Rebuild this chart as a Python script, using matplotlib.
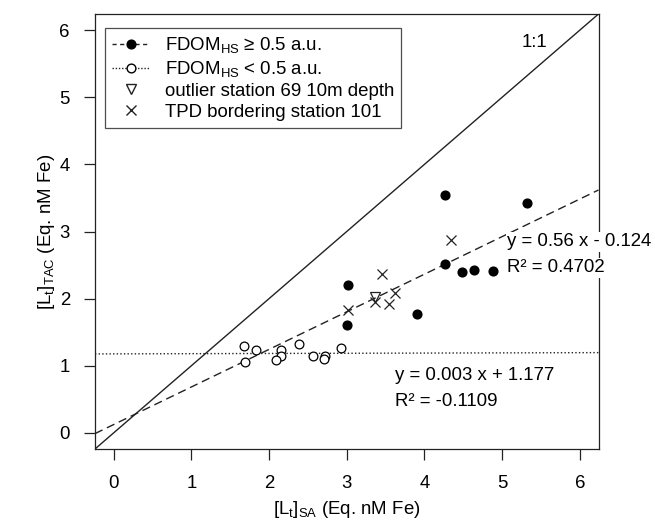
import matplotlib
matplotlib.use("Agg")
import matplotlib.pyplot as plt
from matplotlib.lines import Line2D

plt.rcParams['font.family'] = ['Liberation Sans', 'DejaVu Sans']
plt.rcParams['mathtext.fontset'] = 'custom'
plt.rcParams['mathtext.rm'] = 'Liberation Sans'
plt.rcParams['mathtext.it'] = 'Liberation Sans:italic'
plt.rcParams['mathtext.bf'] = 'Liberation Sans:bold'

# ---- data ----
high_x = [4.27, 5.32, 4.27, 4.48, 4.64, 4.88, 3.91, 3.02, 3.00]
high_y = [3.55, 3.43, 2.51, 2.40, 2.43, 2.41, 1.77, 2.20, 1.60]
low_x = [1.68, 1.83, 1.69, 2.16, 2.16, 2.09, 2.38, 2.57, 2.72, 2.71, 2.93]
low_y = [1.30, 1.23, 1.05, 1.23, 1.14, 1.08, 1.32, 1.14, 1.15, 1.10, 1.26]
tpd_x = [4.34, 3.45, 3.62, 3.37, 3.54, 3.02]
tpd_y = [2.87, 2.36, 2.08, 1.95, 1.92, 1.83]
outlier_x = [3.36]
outlier_y = [2.03]

fit_high = (0.56, 0.124)     # slope, intercept as drawn
fit_low = (0.003, 1.177)
ticks = [0, 1, 2, 3, 4, 5, 6]
lims = (-0.24, 6.24)

W, H = 655, 527
fig = plt.figure(figsize=(W / 100, H / 100), dpi=100)
L, R, B, T = 95.0, 598.5, 449.0, 14.0
ax = fig.add_axes([L / W, (H - B) / H, (R - L) / W, (B - T) / H])
ax.set_xlim(*lims)
ax.set_ylim(*lims)

fs = 13.4
col = '#222222'

# lines
ax.plot(lims, lims, color=col, lw=1.0, zorder=2)
xs = list(lims)
ax.plot(xs, [fit_high[0] * v + fit_high[1] for v in xs], color=col, lw=1.0,
        dashes=(6, 3.5), zorder=2)
ax.plot(xs, [fit_low[0] * v + fit_low[1] for v in xs], color=col, lw=1.0,
        dashes=(1, 1.6), zorder=2)

ms = 6.3
ax.plot(high_x, high_y, 'o', color='black', ms=ms, ls='none', zorder=3)
ax.plot(low_x, low_y, 'o', mfc='white', mec='black', mew=0.9, ms=ms, ls='none', zorder=3)
ax.plot(tpd_x, tpd_y, 'x', color=col, mew=0.9, ms=7, ls='none', zorder=3)
ax.plot(outlier_x, outlier_y, 'v', mfc='none', mec=col, mew=0.9, ms=7.5, ls='none', zorder=3)

ax.set_xticks(ticks)
ax.set_yticks(ticks)
ax.tick_params(direction='out', length=8, width=0.9, colors=col, labelsize=fs,
               labelcolor='black')
ax.tick_params(axis='x', pad=11)
ax.tick_params(axis='y', pad=10)
for s in ax.spines.values():
    s.set_color(col)
    s.set_linewidth(0.9)

ax.set_xlabel(r'[L$_\mathrm{t}$]$_\mathrm{SA}$ (Eq. nM Fe)', fontsize=fs, labelpad=5)
ax.set_ylabel(r'[L$_\mathrm{t}$]$_\mathrm{TAC}$ (Eq. nM Fe)', fontsize=fs, labelpad=2)

# annotations (figure pixel positions)
def figtxt(px, py, s, ha='left'):
    fig.text(px / W, 1 - py / H, s, fontsize=fs, ha=ha, va='center',
             bbox=dict(facecolor='white', edgecolor='none', pad=1.0), zorder=5)

figtxt(507, 242, 'y = 0.56 x - 0.124')
figtxt(507, 268, 'R² = 0.4702')
figtxt(395, 376, 'y = 0.003 x + 1.177')
figtxt(395, 402, 'R² = -0.1109')
ax.text(5.42, 5.82, '1:1', fontsize=fs, ha='center', va='center')

handles = [
    Line2D([], [], color=col, lw=1.0, dashes=(3, 2.5), marker='o', mfc='black',
           mec='black', ms=6.3),
    Line2D([], [], color=col, lw=1.0, dashes=(1, 1.3), marker='o', mfc='white',
           mec='black', ms=6.3),
    Line2D([], [], ls='none', marker='v', mfc='none', mec=col, ms=7.5),
    Line2D([], [], ls='none', marker='x', color=col, ms=7),
]
labels = [r'FDOM$_\mathrm{HS}$ ≥ 0.5 a.u.', r'FDOM$_\mathrm{HS}$ < 0.5 a.u.',
          'outlier station 69 10m depth', 'TPD bordering station 101']
leg = ax.legend(handles, labels, loc='upper left',
                bbox_to_anchor=(105 / W, 1 - 28 / H), bbox_transform=fig.transFigure,
                fontsize=fs, frameon=True, fancybox=False, borderpad=0.4,
                handlelength=2.0, handletextpad=0.8, labelspacing=0.2,
                borderaxespad=0, numpoints=1)
leg.get_frame().set_edgecolor(col)
leg.get_frame().set_linewidth(0.9)

fig.savefig('out.png', dpi=100)
